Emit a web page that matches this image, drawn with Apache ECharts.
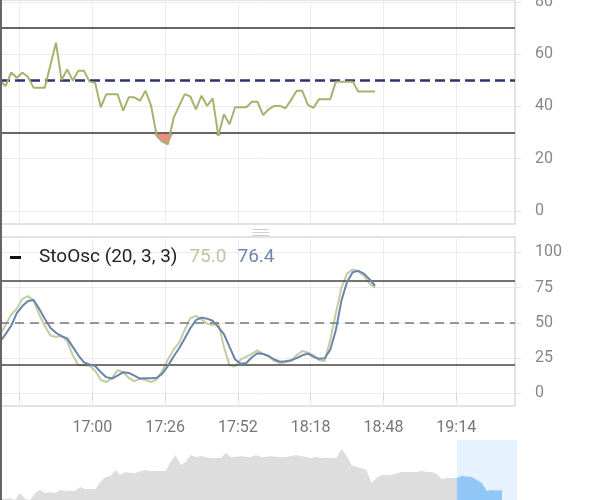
<!DOCTYPE html>
<html><head><meta charset="utf-8">
<script src="https://cdn.jsdelivr.net/npm/echarts@6/dist/echarts.min.js"></script>
<style>html,body{margin:0;padding:0;background:#fff}#c{width:590px;height:500px}</style>
</head><body><div id="c"></div>
<script>
// ---- data (one value every 2 minutes) ----
const rsiVals = [49.8,47.8,53,51,53,51.3,47.2,47.2,47.2,55.8,64.4,50.1,54.2,49.9,53.7,53.7,49.5,49.1,39.7,44.7,
  44.7,44.7,38.4,43.5,43.5,42.2,46,40.2,28.7,26.5,25.5,35.5,40.2,44.7,43.8,38.9,44.1,40.2,43.1,28.7,
  37,33.2,39.7,39.7,39.7,41.8,41.8,36.7,38.9,40.2,40.2,39.3,42.5,46,46,40.6,39.5,42.8,42.8,42.8,
  49.5,49.5,49.5,49.5,45.7,45.7,45.7,45.7];
const kVals = [41.5,48.6,56,60,67,69,66,56,48,41,40,41,37,27,20,20,19.5,16,9.5,8,
  10.7,16.5,15,11,8.5,10.5,9.5,8,10,16,24,31,36,45,53.3,55,52.5,49.5,48.5,50,
  33,20,19,24,26,28,30.5,28,26,23,21.5,22,23,27,30,29,27,23.5,23,38,
  57,75,85,88,86.5,83.5,78,75.0];
const dVals = [36.6,42,48,57,62,65.5,66.3,60,53,46.5,43,40.5,39,33,27,22,20.5,19.4,15,11.5,
  10.5,12.5,15,14.5,12.5,10.5,10.7,10.7,11,14,19.5,26,32,39,46.2,52,53.8,53,51.5,47,
  42,33,24,21,21.5,25.6,28.5,28,26.5,24,22.5,22.8,23.5,25,27,28.2,26,24.5,24.9,31,
  45,66,79,86,87,85,81,76.4];
const navVals = [21,21,22,20,27,21,20,27,30,27,28,27,30,29,29.5,29,33,31,31,31,
  38,43,44,50,45,48,47,47,49,50,49,49,49,49,58,65,55,58,65,63,
  64,63,62,62,62,67,63,63,64,63,63,65,63,63,64,63,63,63,64,65,
  64,63,62,63,62,62.5,62,62,71,65,55,53,52,50,37.5,42,45,45,45,46.5,
  48,48,48,48,49,48,48,46,41,42,42,42,44,43.5,43,40,37,29,30,29.5,30];
const tickLabels = ['', '17:00', '17:26', '17:52', '18:18', '18:48', '19:14'];
const rsiTicks = [0, 20, 40, 60, 80];
const stoTicks = [0, 25, 50, 75, 100];
const rsiLevels = {upper: 70, mid: 50, lower: 30};
const stoLevels = {upper: 80, mid: 50, lower: 20};
const minuteCount = 185, firstTick = 7, tickStep = 26, dataStep = 2;
const navCount = 104, navWindowStart = 91;

// ---- build ----
const minuteCats = Array.from({length: minuteCount}, (_, i) => String(i));
const navCats = Array.from({length: navCount}, (_, i) => String(i));
const isTick = i => i >= firstTick && (i - firstTick) % tickStep === 0;
const pairs = arr => arr.map((v, i) => [i * dataStep, v]);
const FONT = 'Roboto, "Noto Sans", sans-serif';
const gridLine = {color: '#ececec', width: 1};

const chart = echarts.init(document.getElementById('c'), null, {renderer: 'canvas'});
chart.setOption({
  animation: false,
  textStyle: {fontFamily: FONT},
  title: {
    left: 34, top: 243,
    text: '{name|StoOsc (20, 3, 3)}{k|' + kVals[kVals.length - 1].toFixed(1) + '}{d|' + dVals[dVals.length - 1].toFixed(1) + '}',
    textStyle: {fontWeight: 'normal', rich: {
      name: {fontSize: 19, color: '#222', fontFamily: FONT, fontWeight: 'normal'},
      k: {fontSize: 19, color: '#bcc79d', fontFamily: FONT, fontWeight: 'normal', padding: [0, 0, 0, 12]},
      d: {fontSize: 19, color: '#6d87ad', fontFamily: FONT, fontWeight: 'normal', padding: [0, 0, 0, 11]}
    }}
  },
  graphic: [
    {type: 'rect', left: 0, top: 0, shape: {width: 2, height: 500}, style: {fill: '#666'}, z: 100},
    {type: 'rect', left: 10, top: 256, shape: {width: 11, height: 3}, style: {fill: '#111'}, z: 100},
    {type: 'group', left: 250, top: 227, children: [
      {type: 'line', shape: {x1: 0, y1: 0, x2: 17, y2: 0}, style: {stroke: '#cfcfcf', lineWidth: 1}},
      {type: 'line', shape: {x1: 0, y1: 3, x2: 17, y2: 3}, style: {stroke: '#cfcfcf', lineWidth: 1}},
      {type: 'line', shape: {x1: 0, y1: 6, x2: 17, y2: 6}, style: {stroke: '#cfcfcf', lineWidth: 1}}
    ]}
  ],
  grid: [
    {left: 0, right: 75, top: 0, height: 224, show: true, borderColor: '#dadada', borderWidth: 1.5, outerBoundsMode: 'none', containLabel: false},
    {left: 0, right: 75, top: 237, height: 169, show: true, borderColor: '#dadada', borderWidth: 1.5, outerBoundsMode: 'none', containLabel: false},
    {left: 0, right: 73, top: 440, height: 80, outerBoundsMode: 'none', containLabel: false}
  ],
  xAxis: [
    {gridIndex: 0, type: 'category', data: minuteCats, boundaryGap: false,
     axisLine: {show: false}, axisTick: {show: false}, axisLabel: {show: false},
     splitLine: {show: true, interval: i => isTick(i), lineStyle: gridLine}},
    {gridIndex: 1, type: 'category', data: minuteCats, boundaryGap: false,
     axisLine: {show: false},
     axisTick: {show: true, interval: i => isTick(i), length: 7, lineStyle: {color: '#d6d6d6'}},
     axisLabel: {show: true, interval: i => isTick(i), margin: 14, color: '#777', fontSize: 16, fontFamily: FONT,
       formatter: (v, i) => tickLabels[(i - firstTick) / tickStep] || ''},
     splitLine: {show: true, interval: i => isTick(i), lineStyle: gridLine}},
    {gridIndex: 2, type: 'category', data: navCats, boundaryGap: false, show: false}
  ],
  yAxis: [
    {gridIndex: 0, type: 'value', position: 'right', min: -5, max: 80.75,
     axisLine: {show: false},
     axisTick: {show: true, length: 6, lineStyle: {color: '#e2e2e2'}, customValues: rsiTicks},
     axisLabel: {customValues: rsiTicks, color: '#888', fontSize: 16, margin: 20, fontFamily: FONT},
     splitLine: {show: true, lineStyle: gridLine}},
    {gridIndex: 1, type: 'value', position: 'right', min: -9, max: 111,
     axisLine: {show: false},
     axisTick: {show: true, length: 6, lineStyle: {color: '#e2e2e2'}, customValues: stoTicks},
     axisLabel: {customValues: stoTicks, color: '#888', fontSize: 16, margin: 20, fontFamily: FONT},
     splitLine: {show: true, lineStyle: gridLine}},
    {gridIndex: 2, type: 'value', min: 0, max: 80, show: false}
  ],
  series: [
    {name: 'dipBase', type: 'line', xAxisIndex: 0, yAxisIndex: 0, stack: 'dip', silent: true,
     symbol: 'none', lineStyle: {opacity: 0}, z: 2,
     data: pairs(rsiVals.map(v => Math.min(v, rsiLevels.lower)))},
    {name: 'dipFill', type: 'line', xAxisIndex: 0, yAxisIndex: 0, stack: 'dip', silent: true,
     symbol: 'none', lineStyle: {opacity: 0}, areaStyle: {color: '#f28b82', opacity: 1}, z: 2,
     data: pairs(rsiVals.map(v => rsiLevels.lower - Math.min(v, rsiLevels.lower)))},
    {name: 'RSI', type: 'line', xAxisIndex: 0, yAxisIndex: 0, symbol: 'none', z: 5,
     lineStyle: {color: '#a4b46e', width: 2}, data: pairs(rsiVals),
     markLine: {symbol: 'none', silent: true, label: {show: false}, z: 3, data: [
       {yAxis: rsiLevels.upper, lineStyle: {color: '#666', width: 2, type: 'solid'}},
       {yAxis: rsiLevels.lower, lineStyle: {color: '#666', width: 2, type: 'solid'}},
       {yAxis: rsiLevels.mid, lineStyle: {color: '#2c3472', width: 2.5, type: [10, 5]}}
     ]}},
    {name: '%K', type: 'line', xAxisIndex: 1, yAxisIndex: 1, symbol: 'none', z: 4,
     lineStyle: {color: '#c3cda2', width: 2}, data: pairs(kVals),
     markLine: {symbol: 'none', silent: true, label: {show: false}, data: [
       {yAxis: stoLevels.upper, lineStyle: {color: '#444', width: 1.5, type: 'solid'}},
       {yAxis: stoLevels.lower, lineStyle: {color: '#444', width: 1.5, type: 'solid'}},
       {yAxis: stoLevels.mid, lineStyle: {color: '#777', width: 1.5, type: [9, 6]}}
     ]}},
    {name: '%D', type: 'line', xAxisIndex: 1, yAxisIndex: 1, symbol: 'none', z: 5,
     lineStyle: {color: '#6985ab', width: 2}, data: pairs(dVals)},
    {name: 'window', type: 'line', xAxisIndex: 2, yAxisIndex: 2, symbol: 'none', data: [], z: 1,
     markArea: {silent: true, itemStyle: {color: '#e6f2fd'},
       data: [[{xAxis: navWindowStart}, {xAxis: navCount - 1}]]}},
    {name: 'navGray', type: 'line', xAxisIndex: 2, yAxisIndex: 2, symbol: 'none', silent: true, z: 3,
     lineStyle: {width: 0}, areaStyle: {color: '#dddddd', opacity: 1},
     data: navVals.map((v, i) => i <= navWindowStart ? v : null)},
    {name: 'navBlue', type: 'line', xAxisIndex: 2, yAxisIndex: 2, symbol: 'none', silent: true, z: 4,
     lineStyle: {width: 0}, areaStyle: {color: '#90c7f7', opacity: 1},
     data: navVals.map((v, i) => i >= navWindowStart ? v : null)}
  ]
});
</script></body></html>
